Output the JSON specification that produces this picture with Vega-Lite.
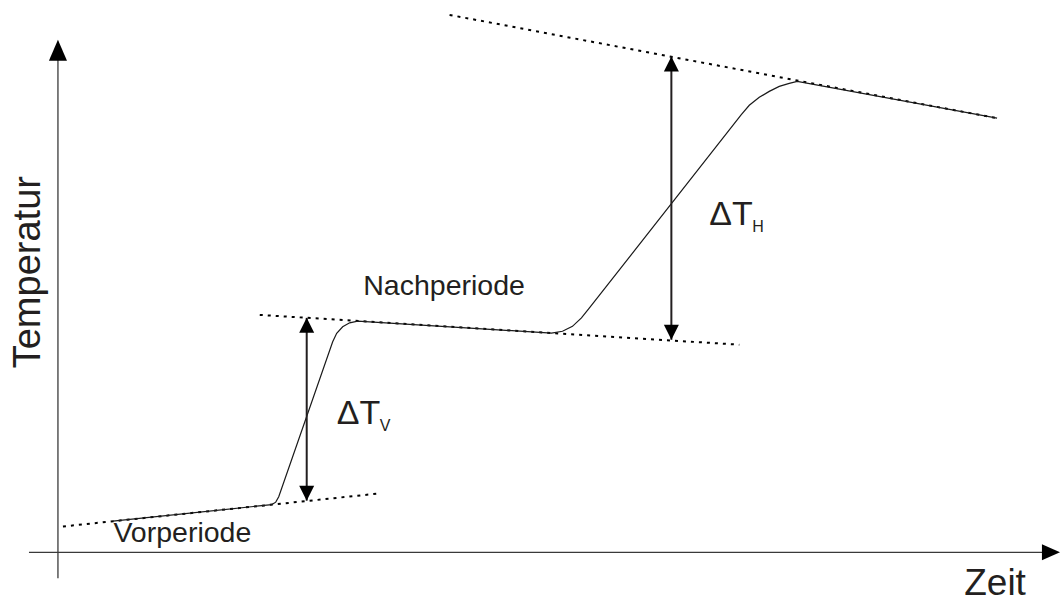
{
  "$schema": "https://vega.github.io/schema/vega-lite/v6.json",
  "width": 1060,
  "height": 602,
  "autosize": {"type": "fit", "contains": "padding"},
  "padding": 0,
  "background": "white",
  "view": {"stroke": null},
  "config": {"text": {"font": "Liberation Sans", "color": "#231f20"}},
  "resolve": {"scale": {"shape": "independent"}},
  "datasets": {
    "axes": [
      {"t": 0, "T": -26, "t2": 0, "T2": 505},
      {"t": -29, "T": 0, "t2": 995, "T2": 0}
    ],
    "axisHeads": [
      {"t": 0, "T": 516, "dir": "axis-up"},
      {"t": 1003, "T": 0, "dir": "axis-right"}
    ],
    "guides": [
      {"period": "Vorperiode", "t": 5, "T": 26, "t2": 319, "T2": 59},
      {"period": "Nachperiode", "t": 202, "T": 239, "t2": 682, "T2": 209},
      {"period": "Hauptperiode", "t": 392, "T": 541, "t2": 940, "T2": 437}
    ],
    "curve": [
      {"i": 1, "t": 55, "T": 31.3},
      {"i": 2, "t": 214, "T": 48},
      {"i": 3, "t": 218, "T": 50.5},
      {"i": 4, "t": 221, "T": 56},
      {"i": 5, "t": 275, "T": 212},
      {"i": 6, "t": 279, "T": 220.5},
      {"i": 7, "t": 285, "T": 227},
      {"i": 8, "t": 292, "T": 231},
      {"i": 9, "t": 300, "T": 232.8},
      {"i": 10, "t": 494, "T": 220.6},
      {"i": 11, "t": 505, "T": 222.5},
      {"i": 12, "t": 515, "T": 227.5},
      {"i": 13, "t": 524, "T": 236},
      {"i": 14, "t": 532, "T": 246},
      {"i": 15, "t": 684, "T": 440.5},
      {"i": 16, "t": 692, "T": 450},
      {"i": 17, "t": 702, "T": 458},
      {"i": 18, "t": 712, "T": 464},
      {"i": 19, "t": 722, "T": 469},
      {"i": 20, "t": 732, "T": 472},
      {"i": 21, "t": 740, "T": 474},
      {"i": 22, "t": 940, "T": 437}
    ],
    "deltas": [
      {"name": "V", "t": 249, "Tlow": 52, "Thigh": 236},
      {"name": "H", "t": 614, "Tlow": 214, "Thigh": 499}
    ],
    "deltaHeads": [
      {"t": 249, "T": 236, "dir": "up"},
      {"t": 249, "T": 52, "dir": "down"},
      {"t": 614, "T": 499, "dir": "up"},
      {"t": 614, "T": 214, "dir": "down"}
    ],
    "periodLabels": [
      {"label": "Vorperiode", "t": 124.5, "T": 10},
      {"label": "Nachperiode", "t": 386.5, "T": 259}
    ],
    "deltaLabels": [
      {"label": "ΔT", "t": 279, "T": 129},
      {"label": "ΔT", "t": 652, "T": 329}
    ],
    "subscripts": [
      {"label": "V", "t": 322, "T": 122},
      {"label": "H", "t": 695, "T": 322}
    ],
    "xTitle": [{"label": "Zeit", "t": 938, "T": -43}],
    "yTitle": [{"label": "Temperatur", "t": -18, "T": 282}]
  },
  "layer": [
    {
      "data": {"name": "axes"},
      "mark": {"type": "rule", "color": "#3a3a3a", "strokeWidth": 1.3},
      "encoding": {
        "x": {"field": "t", "type": "quantitative", "scale": {"domain": [-58, 1002], "nice": false, "zero": false}, "axis": null},
        "y": {"field": "T", "type": "quantitative", "scale": {"domain": [-46, 556], "nice": false, "zero": false}, "axis": null},
        "x2": {"field": "t2"},
        "y2": {"field": "T2"}
      }
    },
    {
      "data": {"name": "axisHeads"},
      "mark": {"type": "point", "filled": true, "opacity": 1, "color": "#000000", "size": 1764, "strokeWidth": 0},
      "encoding": {
        "x": {"field": "t", "type": "quantitative", "scale": {"domain": [-58, 1002], "nice": false, "zero": false}, "axis": null},
        "y": {"field": "T", "type": "quantitative", "scale": {"domain": [-46, 556], "nice": false, "zero": false}, "axis": null},
        "shape": {"field": "dir", "type": "nominal", "legend": null, "scale": {"domain": ["axis-up", "axis-right"], "range": ["M0,0L-0.43,1L0.43,1Z", "M0,0L-0.86,-0.38L-0.86,0.38Z"]}}
      }
    },
    {
      "data": {"name": "guides"},
      "mark": {"type": "rule", "color": "#000000", "strokeWidth": 2, "strokeDash": [3, 5]},
      "encoding": {
        "x": {"field": "t", "type": "quantitative", "scale": {"domain": [-58, 1002], "nice": false, "zero": false}, "axis": null},
        "y": {"field": "T", "type": "quantitative", "scale": {"domain": [-46, 556], "nice": false, "zero": false}, "axis": null},
        "x2": {"field": "t2"},
        "y2": {"field": "T2"}
      }
    },
    {
      "data": {"name": "curve"},
      "mark": {"type": "line", "color": "#1a1a1a", "strokeWidth": 1.2, "interpolate": "linear"},
      "encoding": {
        "x": {"field": "t", "type": "quantitative", "scale": {"domain": [-58, 1002], "nice": false, "zero": false}, "axis": null},
        "y": {"field": "T", "type": "quantitative", "scale": {"domain": [-46, 556], "nice": false, "zero": false}, "axis": null},
        "order": {"field": "i", "type": "quantitative"}
      }
    },
    {
      "data": {"name": "deltas"},
      "mark": {"type": "rule", "color": "#231f20", "strokeWidth": 2},
      "encoding": {
        "x": {"field": "t", "type": "quantitative", "scale": {"domain": [-58, 1002], "nice": false, "zero": false}, "axis": null},
        "y": {"field": "Tlow", "type": "quantitative", "scale": {"domain": [-46, 556], "nice": false, "zero": false}, "axis": null},
        "y2": {"field": "Thigh"}
      }
    },
    {
      "data": {"name": "deltaHeads"},
      "mark": {"type": "point", "filled": true, "opacity": 1, "color": "#000000", "size": 900, "strokeWidth": 0},
      "encoding": {
        "x": {"field": "t", "type": "quantitative", "scale": {"domain": [-58, 1002], "nice": false, "zero": false}, "axis": null},
        "y": {"field": "T", "type": "quantitative", "scale": {"domain": [-46, 556], "nice": false, "zero": false}, "axis": null},
        "shape": {"field": "dir", "type": "nominal", "legend": null, "scale": {"domain": ["up", "down"], "range": ["M0,0L-0.5,1L0.5,1Z", "M0,0L-0.5,-1L0.5,-1Z"]}}
      }
    },
    {
      "data": {"name": "periodLabels"},
      "mark": {"type": "text", "fontSize": 28.5, "align": "center", "baseline": "alphabetic"},
      "encoding": {
        "x": {"field": "t", "type": "quantitative", "scale": {"domain": [-58, 1002], "nice": false, "zero": false}, "axis": null},
        "y": {"field": "T", "type": "quantitative", "scale": {"domain": [-46, 556], "nice": false, "zero": false}, "axis": null},
        "text": {"field": "label"}
      }
    },
    {
      "data": {"name": "deltaLabels"},
      "mark": {"type": "text", "fontSize": 34, "align": "left", "baseline": "alphabetic"},
      "encoding": {
        "x": {"field": "t", "type": "quantitative", "scale": {"domain": [-58, 1002], "nice": false, "zero": false}, "axis": null},
        "y": {"field": "T", "type": "quantitative", "scale": {"domain": [-46, 556], "nice": false, "zero": false}, "axis": null},
        "text": {"field": "label"}
      }
    },
    {
      "data": {"name": "subscripts"},
      "mark": {"type": "text", "fontSize": 16, "align": "left", "baseline": "alphabetic"},
      "encoding": {
        "x": {"field": "t", "type": "quantitative", "scale": {"domain": [-58, 1002], "nice": false, "zero": false}, "axis": null},
        "y": {"field": "T", "type": "quantitative", "scale": {"domain": [-46, 556], "nice": false, "zero": false}, "axis": null},
        "text": {"field": "label"}
      }
    },
    {
      "data": {"name": "xTitle"},
      "mark": {"type": "text", "fontSize": 37, "align": "center", "baseline": "alphabetic"},
      "encoding": {
        "x": {"field": "t", "type": "quantitative", "scale": {"domain": [-58, 1002], "nice": false, "zero": false}, "axis": null},
        "y": {"field": "T", "type": "quantitative", "scale": {"domain": [-46, 556], "nice": false, "zero": false}, "axis": null},
        "text": {"field": "label"}
      }
    },
    {
      "data": {"name": "yTitle"},
      "mark": {"type": "text", "fontSize": 38, "align": "center", "baseline": "alphabetic", "angle": 270},
      "encoding": {
        "x": {"field": "t", "type": "quantitative", "scale": {"domain": [-58, 1002], "nice": false, "zero": false}, "axis": null},
        "y": {"field": "T", "type": "quantitative", "scale": {"domain": [-46, 556], "nice": false, "zero": false}, "axis": null},
        "text": {"field": "label"}
      }
    }
  ]
}
